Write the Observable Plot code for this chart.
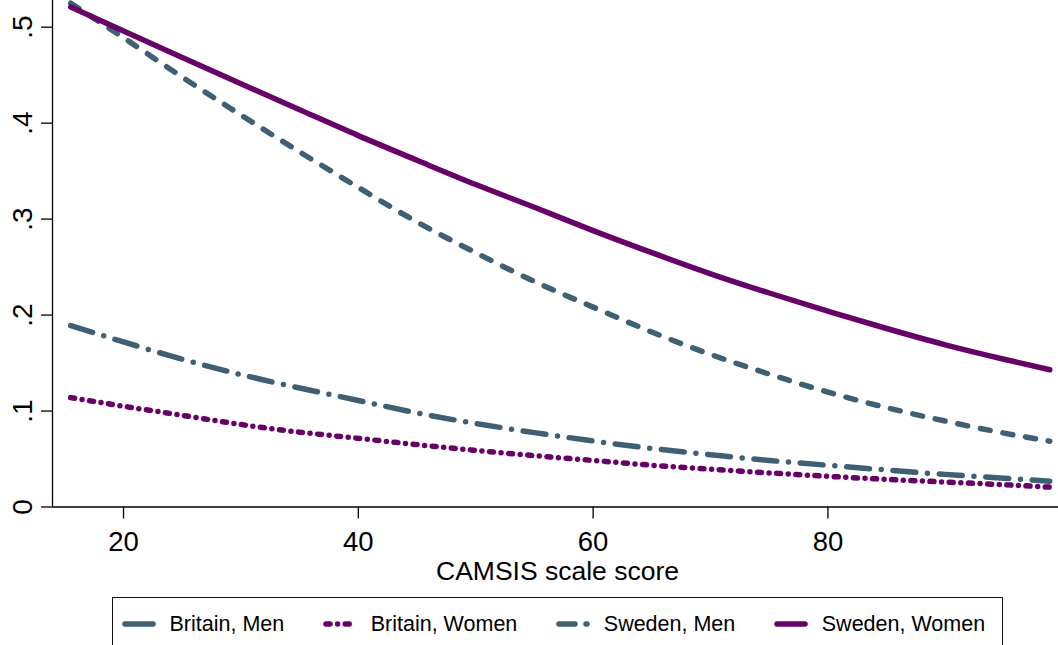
<!DOCTYPE html>
<html>
<head>
<meta charset="utf-8">
<script src="https://cdn.jsdelivr.net/npm/d3@7"></script>
<script src="https://cdn.jsdelivr.net/npm/@observablehq/plot@0.6"></script>
<style>
  html, body { margin: 0; padding: 0; background: #fff; overflow: hidden; }
  #wrap { position: relative; width: 1058px; height: 645px; font-family: "Liberation Sans", Arial, sans-serif; }
  #legend {
    position: absolute; left: 112px; top: 597px; width: 891px; height: 60px;
    border: 1.5px solid #111; background: #fff; box-sizing: border-box;
  }
  #legend .row { position: absolute; left: 8.5px; top: 11px; display: flex; align-items: center; gap: 38.5px; height: 30px; }
  #legend .item { display: flex; align-items: center; gap: 14px; font-size: 21.5px; color: #000; line-height: 30px; white-space: nowrap; }
  #legend svg { display: block; }
</style>
</head>
<body>
<div id="wrap"></div>
<script>
// ---- data ----
const camsis = [15.5, 20, 25, 30, 35, 40, 45, 50, 55, 60, 65, 70, 75, 80, 85, 90, 95, 98.9];
const britainMen   = [0.189, 0.172, 0.154, 0.138, 0.124, 0.111, 0.098, 0.087, 0.0775, 0.0688, 0.061, 0.0545, 0.0485, 0.0435, 0.0385, 0.034, 0.030, 0.0269];
const britainWomen = [0.114, 0.105, 0.0955, 0.086, 0.078, 0.0715, 0.065, 0.059, 0.0535, 0.0485, 0.0435, 0.0393, 0.0355, 0.032, 0.0288, 0.026, 0.0232, 0.0207];
const swedenMen    = [0.525, 0.489, 0.448, 0.4085, 0.370, 0.333, 0.297, 0.265, 0.235, 0.2083, 0.1823, 0.159, 0.1385, 0.1197, 0.1035, 0.0895, 0.077, 0.0686];
const swedenWomen  = [0.521, 0.496, 0.4685, 0.441, 0.414, 0.387, 0.3613, 0.336, 0.3123, 0.288, 0.265, 0.243, 0.223, 0.204, 0.186, 0.169, 0.154, 0.143];

const seriesNames = ["Britain, Men", "Britain, Women", "Sweden, Men", "Sweden, Women"];
const seriesValues = [britainMen, britainWomen, swedenMen, swedenWomen];

const xTicks = [20, 40, 60, 80];
const yTicks = [0, 0.1, 0.2, 0.3, 0.4, 0.5];
const yTickLabels = ["0", ".1", ".2", ".3", ".4", ".5"];
const xLabel = "CAMSIS scale score";
const xDomain = [13.95, 99.64];
const yDomain = [0, 0.5278];

// ---- styles ----
const blue = "#3e5f74";
const purple = "#670067";
const styles = [
  {stroke: blue,   dash: "23 11.75 0 11.75", key: null},
  {stroke: purple, dash: "4 7.6 0 7.6",      key: "4 7.6 0 7.6"},
  {stroke: blue,   dash: "10 13",            key: "16 11"},
  {stroke: purple, dash: null,               key: null}
];

const tables = seriesValues.map(vals => camsis.map((x, i) => ({x, y: vals[i]})));

const lineMarks = tables.map((t, i) => Plot.line(t, {
  x: "x", y: "y", curve: "natural",
  stroke: styles[i].stroke, strokeWidth: 5.5,
  strokeDasharray: styles[i].dash || undefined,
  strokeLinecap: "round", strokeLinejoin: "round"
}));

const chart = Plot.plot({
  width: 1058,
  height: 645,
  marginLeft: 52,
  marginRight: 0,
  marginTop: 0,
  marginBottom: 138.5,
  style: {fontFamily: "'Liberation Sans', Arial, sans-serif", color: "#000", background: "transparent", overflow: "visible"},
  x: {domain: xDomain},
  y: {domain: yDomain},
  marks: [
    Plot.axisX({ticks: xTicks, tickSize: 12, tickPadding: 12, fontSize: 27.5, label: null, strokeWidth: 1.3}),
    Plot.axisY({ticks: yTicks, tickSize: 11, tickFormat: () => "", label: null, strokeWidth: 1.3}),
    Plot.text(yTicks, {y: d => d, text: (d, i) => yTickLabels[i], frameAnchor: "left", rotate: -90,
      textAnchor: "middle", lineAnchor: "middle", dx: -29.2, fontSize: 28, fill: "#000"}),
    Plot.text([xLabel], {frameAnchor: "bottom", text: d => d, lineAnchor: "bottom", dy: 73, dx: 2, fontSize: 26.5, fill: "#000"}),
    ...lineMarks,
    Plot.ruleY([yDomain[0]], {stroke: "#000", strokeWidth: 1.3}),
    Plot.ruleX([xDomain[0]], {stroke: "#000", strokeWidth: 1.3})
  ]
});

const wrap = document.getElementById("wrap");
wrap.appendChild(chart);

// ---- legend (HTML below the plot area) ----
const legend = d3.select(wrap).append("div").attr("id", "legend");
const row = legend.append("div").attr("class", "row");
seriesNames.forEach((name, i) => {
  const item = row.append("div").attr("class", "item");
  const svg = item.append("svg").attr("width", 34).attr("height", 10);
  svg.append("line")
    .attr("x1", 3).attr("x2", 31).attr("y1", 5).attr("y2", 5)
    .attr("stroke", styles[i].stroke).attr("stroke-width", 5.5)
    .attr("stroke-linecap", "round")
    .attr("stroke-dasharray", styles[i].key);
  item.append("span").text(name);
});
</script>
</body>
</html>
